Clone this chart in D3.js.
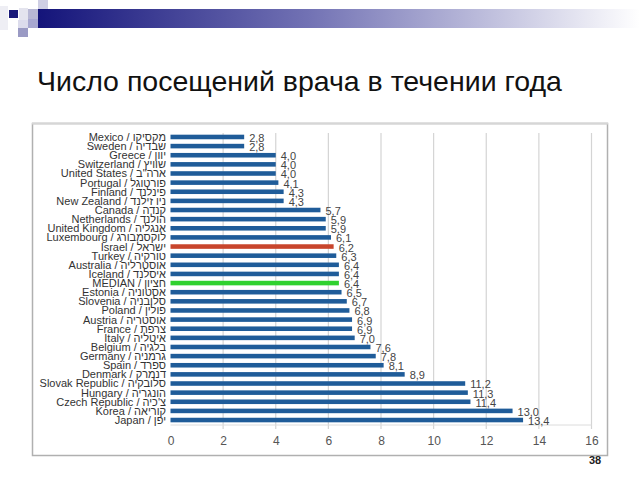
<!DOCTYPE html>
<html><head><meta charset="utf-8">
<script src="https://cdn.jsdelivr.net/npm/d3@7"></script>
<style>
html,body{margin:0;padding:0;background:#fff;}
svg{display:block;font-family:"Liberation Sans",Arial,sans-serif;}
</style></head>
<body>
<svg id="chart" width="640" height="480"></svg>
<script>
const titleText = "Число посещений врача в течении года";
const pageNumber = "38";
const countries = [
  "Mexico / מקסיקו","Sweden / שבדיה","Greece / יוון","Switzerland / שוויץ",
  "United States / ארה\"ב","Portugal / פורטוגל","Finland / פינלנד","New Zealand / ניו זילנד",
  "Canada / קנדה","Netherlands / הולנד","United Kingdom / אנגליה","Luxembourg / לוקסמבורג",
  "Israel / ישראל","Turkey / טורקיה","Australia / אוסטרליה","Iceland / איסלנד",
  "MEDIAN / חציון","Estonia / אסטוניה","Slovenia / סלובניה","Poland / פולין",
  "Austria / אוסטריה","France / צרפת","Italy / איטליה","Belgium / בלגיה",
  "Germany / גרמניה","Spain / ספרד","Denmark / דנמרק","Slovak Republic / סלובקיה",
  "Hungary / הונגריה","Czech Republic / צ'כיה","Korea / קוריאה","Japan / יפן"
];
const visits = [2.8,2.8,4.0,4.0,4.0,4.1,4.3,4.3,5.7,5.9,5.9,6.1,6.2,6.3,6.4,6.4,6.4,6.5,6.7,6.8,6.9,6.9,7.0,7.6,7.8,8.1,8.9,11.2,11.3,11.4,13.0,13.4];
const highlightIsrael = "Israel / ישראל";
const highlightMedian = "MEDIAN / חציון";
const xTicks = [0,2,4,6,8,10,12,14,16];

const svg = d3.select("#chart");

// decorative header
const defs = svg.append("defs");
const grad = defs.append("linearGradient").attr("id","hdr").attr("x1","0%").attr("x2","100%");
grad.append("stop").attr("offset","0%").attr("stop-color","#14147a");
grad.append("stop").attr("offset","45%").attr("stop-color","#7272b4");
grad.append("stop").attr("offset","100%").attr("stop-color","#ffffff");
svg.append("rect").attr("x",38).attr("y",9).attr("width",602).attr("height",19).attr("fill","url(#hdr)");
const squares = [
  [0,6,8,24,"#eeeef4"],[9,10,9,8,"#1a1a7a"],[19,8,9,12,"#e4e4ee"],[28,9,10,10,"#b8b8d4"],
  [38,0,10,9,"#cfcfe4"],[28,19,10,9,"#a8a8d0"],[18,20,10,8,"#dcdcec"],[18,28,10,9,"#9a9ac4"]
];
svg.selectAll("rect.sq").data(squares).join("rect").attr("class","sq")
  .attr("x",d=>d[0]).attr("y",d=>d[1]).attr("width",d=>d[2]).attr("height",d=>d[3]).attr("fill",d=>d[4]);

// title
svg.append("text").attr("x",37).attr("y",91).attr("font-size",28.5).attr("fill","#111").text(titleText);

// frame
svg.append("rect").attr("x",32.5).attr("y",123.5).attr("width",575).attr("height",332)
  .attr("fill","none").attr("stroke","#b0b0b0").attr("stroke-width",1.5);
svg.append("line").attr("x1",32).attr("x2",608).attr("y1",123.5).attr("y2",123.5).attr("stroke","#d6d6d6").attr("stroke-width",2);

const x = d3.scaleLinear().domain([0,16]).range([170.5,591.5]);
const y = d3.scaleBand().domain(countries).range([132.4,424.6]).paddingInner(0.5).paddingOuter(0.25);

// gridlines
svg.append("g").selectAll("line").data(xTicks.filter(t=>t>0)).join("line")
  .attr("x1",d=>x(d)).attr("x2",d=>x(d)).attr("y1",133).attr("y2",429)
  .attr("stroke","#d4d4d4").attr("stroke-width",1.2);
svg.append("line").attr("x1",x(0)).attr("x2",x(16)).attr("y1",425).attr("y2",425)
  .attr("stroke","#dcdcdc").attr("stroke-width",1);

// axis
const xAxis = d3.axisBottom(x).tickValues(xTicks).tickSize(0).tickPadding(0).tickFormat(d3.format("d"));
const gx = svg.append("g").attr("transform","translate(0,436)").call(xAxis);
gx.select(".domain").remove();
gx.selectAll("text").attr("font-size",12).attr("fill","#555").attr("font-family","Liberation Sans, Arial, sans-serif");

// category labels
svg.append("g").selectAll("text").data(countries).join("text")
  .attr("x",166).attr("y",d=>y(d)+y.bandwidth()/2).attr("dy","0.36em")
  .attr("text-anchor","end").attr("font-size",11).attr("fill","#333").text(d=>d);

// bars
const color = d => d===highlightIsrael ? "#c8452c" : d===highlightMedian ? "#2fd12f" : "#1f5c99";
svg.append("g").selectAll("rect").data(countries).join("rect")
  .attr("x",x(0)).attr("y",d=>y(d)).attr("height",y.bandwidth())
  .attr("width",(d,i)=>x(visits[i])-x(0)).attr("fill",d=>color(d));

// value labels
const fmt = v => v.toFixed(1).replace(".",",");
svg.append("g").selectAll("text").data(countries).join("text")
  .attr("x",(d,i)=>x(visits[i])+5).attr("y",d=>y(d)+y.bandwidth()/2+1).attr("dy","0.36em")
  .attr("font-size",11).attr("fill","#444").text((d,i)=>fmt(visits[i]));

// page number
svg.append("text").attr("x",595).attr("y",464).attr("text-anchor","middle")
  .attr("font-size",11).attr("font-weight","bold").attr("fill","#222").text(pageNumber);
</script>
</body></html>
